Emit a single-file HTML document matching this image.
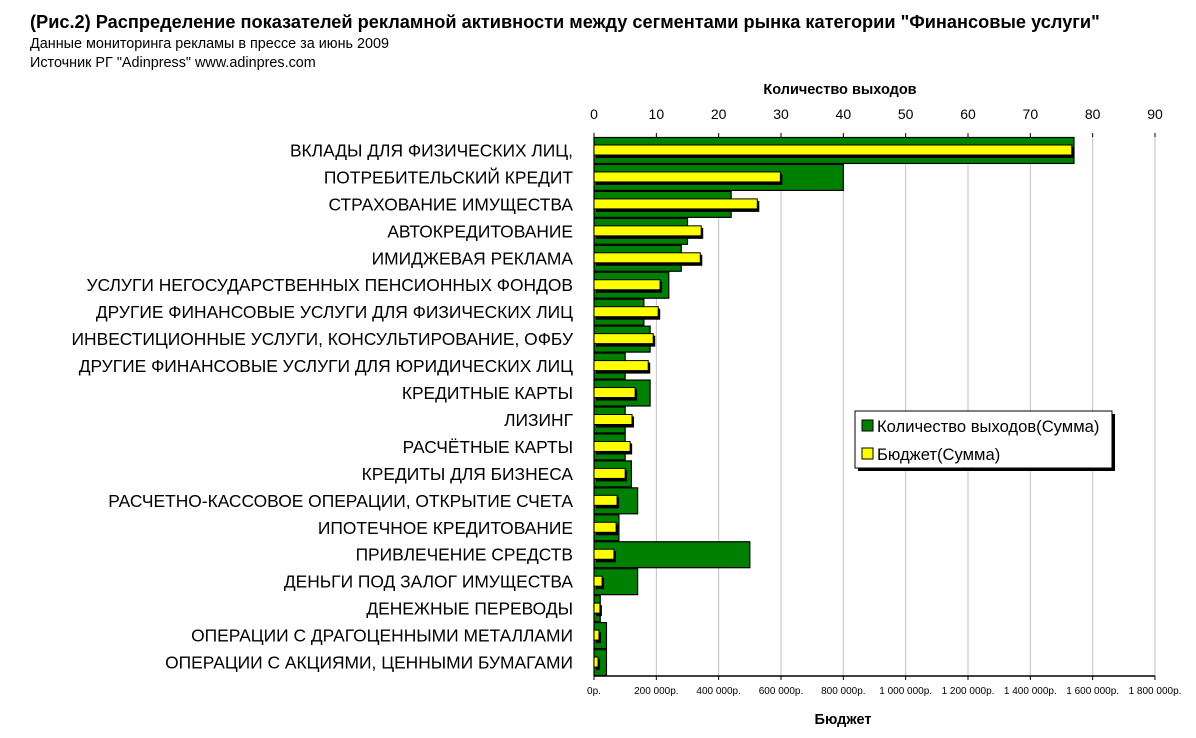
<!DOCTYPE html>
<html><head><meta charset="utf-8"><style>
body{margin:0;background:#fff;width:1196px;height:733px;overflow:hidden;font-family:"Liberation Sans","DejaVu Sans",sans-serif;}
</style></head><body>
<svg id="chart" width="1196" height="733" xmlns="http://www.w3.org/2000/svg" font-family="Liberation Sans, DejaVu Sans, sans-serif">
<text x="30" y="28" font-size="18.2" font-weight="bold">(Рис.2) Распределение показателей рекламной активности между сегментами рынка категории "Финансовые услуги"</text>
<text x="30" y="48" font-size="14.4">Данные мониторинга рекламы в прессе за июнь 2009</text>
<text x="30" y="67" font-size="14.4">Источник РГ "Adinpress" www.adinpres.com</text>
<text x="840" y="94" font-size="14.5" font-weight="bold" text-anchor="middle">Количество выходов</text>
<text x="843" y="724" font-size="14.5" font-weight="bold" text-anchor="middle">Бюджет</text>
<g id="grid"></g><g id="bars"></g><g id="axes"></g><g id="labels"></g>
<g>
<rect x="858" y="414" width="257" height="57" fill="#000"/>
<rect x="855" y="411" width="257" height="57" fill="#fff" stroke="#000"/>
<rect x="862" y="420" width="11" height="11" fill="#008000" stroke="#000"/>
<text x="877" y="432" font-size="16.6">Количество выходов(Сумма)</text>
<rect x="862" y="448" width="11" height="11" fill="#ffff00" stroke="#000"/>
<text x="877" y="460" font-size="16.6">Бюджет(Сумма)</text>
</g>
</svg>
<script>
const categories=["ВКЛАДЫ ДЛЯ ФИЗИЧЕСКИХ ЛИЦ,","ПОТРЕБИТЕЛЬСКИЙ КРЕДИТ","СТРАХОВАНИЕ ИМУЩЕСТВА","АВТОКРЕДИТОВАНИЕ","ИМИДЖЕВАЯ РЕКЛАМА","УСЛУГИ НЕГОСУДАРСТВЕННЫХ ПЕНСИОННЫХ ФОНДОВ","ДРУГИЕ ФИНАНСОВЫЕ УСЛУГИ ДЛЯ ФИЗИЧЕСКИХ ЛИЦ","ИНВЕСТИЦИОННЫЕ УСЛУГИ, КОНСУЛЬТИРОВАНИЕ, ОФБУ","ДРУГИЕ ФИНАНСОВЫЕ УСЛУГИ ДЛЯ ЮРИДИЧЕСКИХ ЛИЦ","КРЕДИТНЫЕ КАРТЫ","ЛИЗИНГ","РАСЧЁТНЫЕ КАРТЫ","КРЕДИТЫ ДЛЯ БИЗНЕСА","РАСЧЕТНО-КАССОВОЕ ОПЕРАЦИИ, ОТКРЫТИЕ СЧЕТА","ИПОТЕЧНОЕ КРЕДИТОВАНИЕ","ПРИВЛЕЧЕНИЕ СРЕДСТВ","ДЕНЬГИ ПОД ЗАЛОГ ИМУЩЕСТВА","ДЕНЕЖНЫЕ ПЕРЕВОДЫ","ОПЕРАЦИИ С ДРАГОЦЕННЫМИ МЕТАЛЛАМИ","ОПЕРАЦИИ С АКЦИЯМИ, ЦЕННЫМИ БУМАГАМИ"];
const countValues=[77,40,22,15,14,12,8,9,5,9,5,5,6,7,4,25,7,1,2,2];
const budgetValues=[1533000,598000,524000,344000,341000,212000,206000,190000,174000,132000,122000,116000,100000,74000,71000,64000,26000,19000,16000,13000];
const countTicks=[0,10,20,30,40,50,60,70,80,90];
const budgetTicks=[0,200000,400000,600000,800000,1000000,1200000,1400000,1600000,1800000];
const budgetTickLabels=["0р.","200 000р.","400 000р.","600 000р.","800 000р.","1 000 000р.","1 200 000р.","1 400 000р.","1 600 000р.","1 800 000р."];
const NS="http://www.w3.org/2000/svg";
const X0=594,X1=1155,TOP=137,BOT=676;
const xc=v=>X0+(v/90)*(X1-X0);
const xb=v=>X0+(v/1800000)*(X1-X0);
const rowH=(BOT-TOP)/categories.length;
const yr=i=>TOP+i*rowH;
function mk(tag,attrs,parent){const e=document.createElementNS(NS,tag);for(const k in attrs)e.setAttribute(k,attrs[k]);document.getElementById(parent).appendChild(e);return e;}
countTicks.forEach((t,i)=>{
  if(i>0){const g=mk('line',{x1:xc(t),x2:xc(t),y1:TOP,y2:BOT,stroke:'#c0c0c0'},'grid');
  
  }
  mk('line',{x1:xc(t),x2:xc(t),y1:TOP-4,y2:TOP,stroke:'#000'},'axes');
  const tx=mk('text',{x:xc(t),y:119,'font-size':14,'text-anchor':'middle'},'axes');tx.textContent=t;
  
  
});
budgetTicks.forEach((t,i)=>{
  mk('line',{x1:xb(t),x2:xb(t),y1:BOT,y2:BOT+4,stroke:'#000'},'axes');
  const tx=mk('text',{x:xb(t),y:694,'font-size':10,'text-anchor':'middle'},'axes');tx.textContent=budgetTickLabels[i];
  
  
});
mk('line',{x1:X0,x2:X1,y1:BOT,y2:BOT,stroke:'#000','stroke-width':1.5},'axes');
mk('line',{x1:X0,x2:X0,y1:TOP-4,y2:BOT,stroke:'#000'},'axes');
categories.forEach((c,i)=>{
  const y=yr(i);
  const g=mk('rect',{x:X0,y:y+0.5,width:xc(countValues[i])-X0,height:rowH-1,fill:'#008000',stroke:'#000','stroke-width':1.2},'bars');
  
  
  const w=xb(budgetValues[i])-X0;
  mk('rect',{x:X0+2,y:y+10,width:w,height:11,fill:'#000'},'bars');
  const b=mk('rect',{x:X0,y:y+8,width:w,height:10,fill:'#ffff00',stroke:'#000','stroke-width':1},'bars');
  
  
  const t=mk('text',{x:573,y:y+rowH/2+6,'font-size':17.4,'text-anchor':'end'},'labels');t.textContent=c;
  
  
});
</script>
</body></html>
